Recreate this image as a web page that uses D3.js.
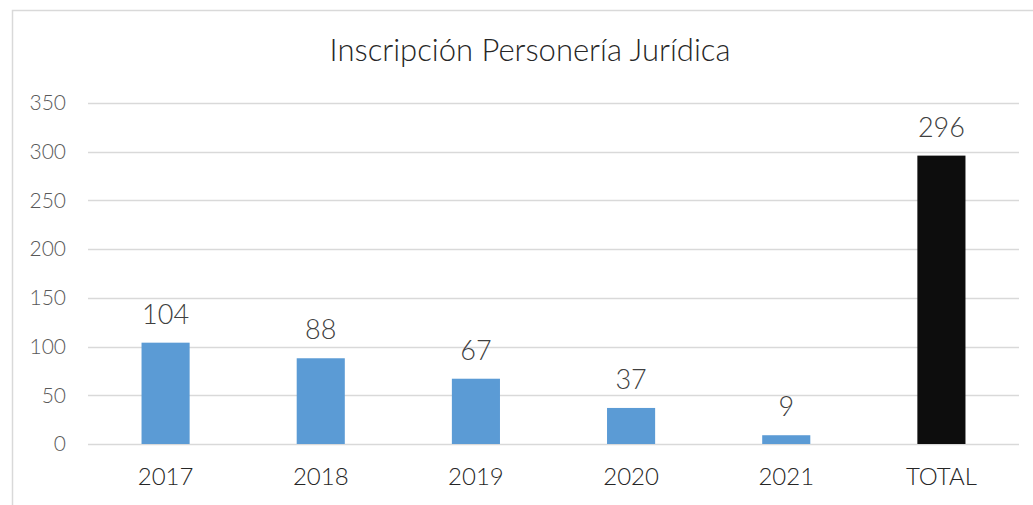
<!DOCTYPE html>
<html><head><meta charset="utf-8">
<script src="https://cdn.jsdelivr.net/npm/d3@7"></script>
<style>html,body{margin:0;padding:0;background:#fff;}svg{display:block;}</style>
</head><body>
<script>
const title = "Inscripción Personería Jurídica";
const categories = ["2017","2018","2019","2020","2021","TOTAL"];
const values = [104, 88, 67, 37, 9, 296];
const barColors = ["#5B9BD5","#5B9BD5","#5B9BD5","#5B9BD5","#5B9BD5","#0D0D0D"];
const yTicks = [0,50,100,150,200,250,300,350];

const W = 1033, H = 505;
const font = "Lato, sans-serif";
const svg = d3.select("body").append("svg").attr("width", W).attr("height", H);

// chart border
svg.append("rect").attr("x", 12.5).attr("y", 10.5).attr("width", 1040).attr("height", 520)
  .attr("fill", "#fff").attr("stroke", "#D9D9D9").attr("stroke-width", 1.5);

const x = d3.scaleBand().domain(categories).range([88, 1019]).paddingInner(0.69).paddingOuter(0.345);
const y = d3.scaleLinear().domain([0, 350]).range([444, 103]);

// gridlines
svg.append("g").selectAll("line").data(yTicks).join("line")
  .attr("x1", 88).attr("x2", 1019)
  .attr("y1", d => Math.round(y(d)) + 0.5).attr("y2", d => Math.round(y(d)) + 0.5)
  .attr("stroke", "#D9D9D9").attr("stroke-width", 1.5);

// y axis
const yAxis = svg.append("g").attr("transform", "translate(66,0)")
  .call(d3.axisLeft(y).tickValues(yTicks).tickSize(0).tickPadding(0));
yAxis.select(".domain").remove();
yAxis.selectAll("text").attr("font-family", font).attr("font-weight", 300)
  .attr("font-size", 21).attr("fill", "#595959");

// x axis
const xAxis = svg.append("g").attr("transform", "translate(0,444)")
  .call(d3.axisBottom(x).tickSize(0).tickPadding(24));
xAxis.select(".domain").remove();
xAxis.selectAll("text").attr("font-family", font).attr("font-weight", 300)
  .attr("font-size", 24).attr("fill", "#262626");

// bars
svg.append("g").selectAll("rect").data(categories).join("rect")
  .attr("x", (d) => x(d)).attr("width", x.bandwidth())
  .attr("y", (d, i) => y(values[i])).attr("height", (d, i) => y(0) - y(values[i]))
  .attr("fill", (d, i) => barColors[i]);

// data labels
svg.append("g").selectAll("text").data(categories).join("text")
  .attr("x", d => x(d) + x.bandwidth() / 2)
  .attr("y", (d, i) => y(values[i]) - 19)
  .attr("text-anchor", "middle")
  .attr("font-family", font).attr("font-weight", 300).attr("font-size", 27).attr("fill", "#404040")
  .text((d, i) => values[i]);

// title
svg.append("text").attr("x", 530).attr("y", 61).attr("text-anchor", "middle")
  .attr("font-family", font).attr("font-weight", 300).attr("font-size", 31).attr("fill", "#262626")
  .text(title);
</script>
</body></html>
